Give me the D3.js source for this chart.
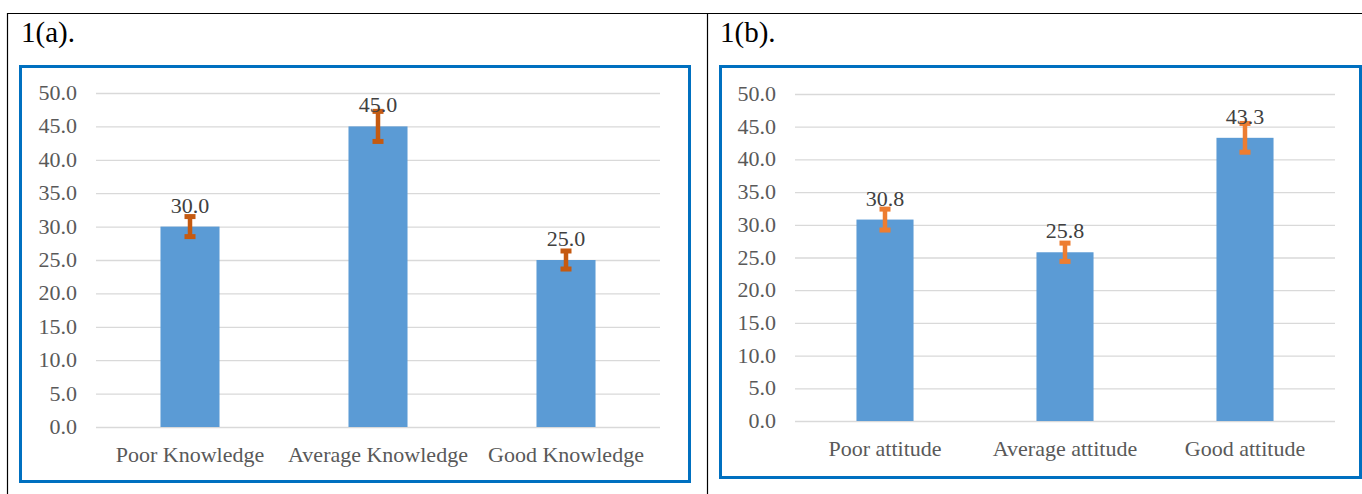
<!DOCTYPE html>
<html>
<head>
<meta charset="utf-8">
<script src="https://cdn.jsdelivr.net/npm/d3@7"></script>
<style>
  body { margin: 0; background: #fff; }
  text { font-family: "Liberation Serif", "Times New Roman", serif; }
</style>
</head>
<body>
<svg id="chart" width="1362" height="494"></svg>
<script>
// data
var knowledgeCats = ["Poor Knowledge", "Average Knowledge", "Good Knowledge"];
var knowledgeVals = [30.0, 45.0, 25.0];
var knowledgeErr = [1.5, 2.25, 1.35];

var attitudeCats = ["Poor attitude", "Average attitude", "Good attitude"];
var attitudeVals = [30.8, 25.8, 43.3];
var attitudeErr = [1.6, 1.4, 2.2];

var yTicks = [0, 5, 10, 15, 20, 25, 30, 35, 40, 45, 50];

var svg = d3.select("#chart");
var SX = 1.0;

function stretchText(g, x, y, str, size, fill, anchor) {
    return g.append("text")
        .attr("transform", "translate(" + x + "," + y + ") scale(" + SX + ",1)")
        .attr("text-anchor", anchor)
        .attr("font-size", size)
        .attr("fill", fill)
        .text(str);
}

// outer table lines
svg.append("line").attr("x1", 7).attr("x2", 1362).attr("y1", 13.5).attr("y2", 13.5)
    .attr("stroke", "#000").attr("stroke-width", 1.2);
svg.append("line").attr("x1", 7.5).attr("x2", 7.5).attr("y1", 13).attr("y2", 494)
    .attr("stroke", "#000").attr("stroke-width", 1.2);
svg.append("line").attr("x1", 707.5).attr("x2", 707.5).attr("y1", 13).attr("y2", 494)
    .attr("stroke", "#000").attr("stroke-width", 1.2);

function drawPanel(opt) {
    var g = svg.append("g");

    stretchText(g, opt.titleX, 42, opt.title, 29, "#000", "start");

    g.append("rect")
        .attr("x", opt.box.x).attr("y", opt.box.y)
        .attr("width", opt.box.w).attr("height", opt.box.h)
        .attr("fill", "none").attr("stroke", "#0070C0").attr("stroke-width", 3);

    var y = d3.scaleLinear().domain([0, 50]).range([opt.y0, opt.y50]);
    var x = d3.scaleBand().domain(opt.cats).range([opt.xl, opt.xr])
        .paddingInner(opt.pad).paddingOuter(opt.pad / 2);

    // gridlines via axis
    var grid = g.append("g")
        .attr("transform", "translate(" + opt.xl + ",0)")
        .call(d3.axisLeft(y).tickValues(yTicks).tickSize(-(opt.xr - opt.xl)).tickFormat(""));
    grid.select(".domain").remove();
    grid.selectAll("line").attr("stroke", "#D9D9D9").attr("stroke-width", 1.3);

    yTicks.forEach(function (t) {
        stretchText(g, opt.xl - 19, y(t) + 7, d3.format(".1f")(t), 22, "#595959", "end");
    });

    g.selectAll("rect.bar").data(opt.vals).enter().append("rect")
        .attr("class", "bar")
        .attr("x", function (d, i) { return x(opt.cats[i]); })
        .attr("y", function (d) { return y(d); })
        .attr("width", x.bandwidth())
        .attr("height", function (d) { return y(0) - y(d); })
        .attr("fill", "#5B9BD5");

    // error bars
    opt.vals.forEach(function (v, i) {
        var cx = x(opt.cats[i]) + x.bandwidth() / 2;
        var top = y(v + opt.err[i]), bot = y(v - opt.err[i]);
        g.append("line").attr("x1", cx).attr("x2", cx).attr("y1", top).attr("y2", bot)
            .attr("stroke", opt.errColor).attr("stroke-width", 4.5);
        [top, bot].forEach(function (yy) {
            g.append("rect").attr("x", cx - 5.5).attr("y", yy - 2.5)
                .attr("width", 11).attr("height", 5).attr("fill", opt.errColor);
        });
    });

    // value labels
    opt.vals.forEach(function (v, i) {
        var cx = x(opt.cats[i]) + x.bandwidth() / 2;
        stretchText(g, cx, y(v) - 14, d3.format(".1f")(v), 22, "#404040", "middle");
    });

    opt.cats.forEach(function (c) {
        var cx = x(c) + x.bandwidth() / 2;
        stretchText(g, cx, opt.catY, c, 22, "#595959", "middle");
    });
}

drawPanel({
    title: "1(a).", titleX: 21,
    box: { x: 20.5, y: 66.5, w: 669, h: 415 },
    cats: knowledgeCats, vals: knowledgeVals, err: knowledgeErr,
    xl: 96, xr: 660, pad: 0.686, y0: 427, y50: 93,
    catY: 462, errColor: "#C55A11"
});

drawPanel({
    title: "1(b).", titleX: 720,
    box: { x: 720.5, y: 66.5, w: 640, h: 411 },
    cats: attitudeCats, vals: attitudeVals, err: attitudeErr,
    xl: 795, xr: 1335, pad: 0.683, y0: 421, y50: 94,
    catY: 456, errColor: "#ED7D31"
});
</script>
</body>
</html>
